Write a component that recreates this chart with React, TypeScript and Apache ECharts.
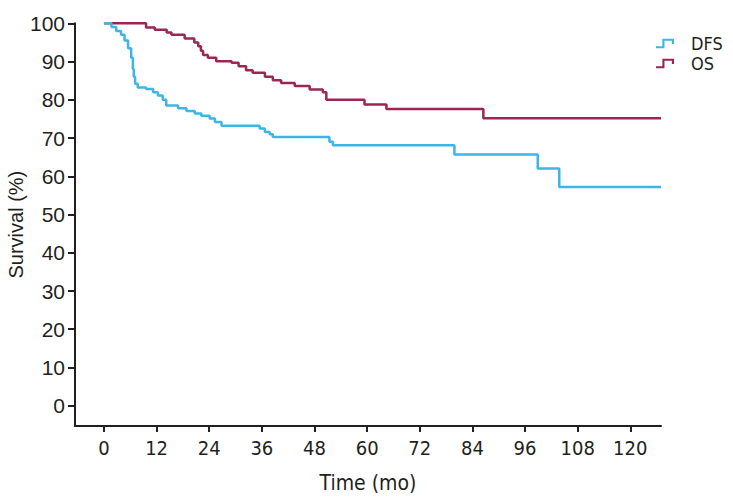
import React, { useEffect, useRef } from "react";
import * as echarts from "echarts";

const xTicks = [0, 12, 24, 36, 48, 60, 72, 84, 96, 108, 120];
const yTicks = [0, 10, 20, 30, 40, 50, 60, 70, 80, 90, 100];

const dfsTime = [0, 1.7, 2.8, 3.9, 4.7, 5.5, 6.2, 6.6, 6.8, 7.1, 7.7, 9.6, 11.2, 12.3, 13.4, 14.2, 16.9, 18.8, 20.7, 22.2, 24.1, 25.3, 26.8, 35.5, 36.7, 37.8, 38.5, 51.4, 52.2, 79.9, 98.9, 103.8, 127];
const dfsSurv = [100, 99, 98, 97, 95.5, 93.5, 91, 88, 86, 84.2, 83.2, 82.8, 82, 81.1, 80, 78.5, 77.8, 77.1, 76.4, 75.8, 75.1, 74.2, 73.2, 72.5, 71.6, 71, 70.3, 69, 68.1, 65.7, 62, 57.2, 57.2];

const osTime = [0, 9.6, 11.6, 14.3, 15.4, 18.4, 20.6, 21.5, 22.1, 22.6, 23.7, 25.6, 29.1, 30.7, 32.4, 33.9, 36.7, 38.5, 40.4, 43.5, 46.9, 49.9, 50.7, 59.4, 64.4, 86.5, 127];
const osSurv = [100, 98.9, 98.3, 97.6, 97, 96, 95, 94, 92.8, 91.7, 91, 90.1, 89.7, 88.8, 87.7, 87.1, 86, 85.1, 84.4, 83.6, 82.7, 82, 80, 78.8, 77.6, 75.2, 75.2];

const seriesNames = ["DFS", "OS"];
const colors = ["#3db5e6", "#9c2555"];

const TEXT = "#231f20";
const NARROW = "'DejaVu Sans Condensed', 'Liberation Sans', sans-serif";
const SANS = "'Liberation Sans', Arial, sans-serif";

const stepIcon = "path://M0,7 L6,7 L6,0 L17,0 L17,5 L15,5 L15,2 L8,2 L8,9 L0,9 Z";

export default function App() {
  const ref = useRef<HTMLDivElement>(null);
  useEffect(() => {
    document.body.style.margin = "0";
    const chart = echarts.init(ref.current!, null, { renderer: "svg" });
    const pairs = (t: number[], v: number[]) => t.map((x, i) => [x, v[i]]);
    chart.setOption({
      animation: false,
      backgroundColor: "#ffffff",
      grid: { left: 75, right: 72, top: 23.3, bottom: 74, containLabel: false, outerBoundsMode: "none" },
      legend: {
        data: seriesNames,
        orient: "vertical",
        left: 651,
        top: 29.5,
        icon: stepIcon,
        itemWidth: 18,
        itemHeight: 10,
        itemGap: 2,
        itemStyle: { borderWidth: 0 },
        textStyle: {
          fontFamily: NARROW,
          fontSize: 18,
          color: TEXT,
          lineHeight: 17,
          padding: [0, 0, 0, 12],
        },
      },
      xAxis: {
        type: "value",
        min: -6.6,
        max: 127,
        name: "Time (mo)",
        nameLocation: "middle",
        nameGap: 46,
        nameMoveOverlap: false,
        nameTextStyle: { fontFamily: NARROW, fontSize: 21, color: TEXT },
        axisLine: { onZero: false, lineStyle: { color: TEXT, width: 2 } },
        axisTick: { show: true, length: 6, lineStyle: { color: TEXT, width: 2 }, customValues: xTicks },
        axisLabel: { customValues: xTicks, fontFamily: NARROW, fontSize: 20, color: TEXT, margin: 12 },
        splitLine: { show: false },
      },
      yAxis: {
        type: "value",
        min: -5.3,
        max: 100,
        name: "Survival (%)",
        nameLocation: "middle",
        nameGap: 49,
        nameMoveOverlap: false,
        nameTextStyle: { fontFamily: SANS, fontSize: 20, color: TEXT },
        axisLine: { onZero: false, lineStyle: { color: TEXT, width: 2 } },
        axisTick: { show: true, length: 7, lineStyle: { color: TEXT, width: 2 }, customValues: yTicks },
        axisLabel: { customValues: yTicks, fontFamily: SANS, fontSize: 21, color: TEXT, margin: 10 },
        splitLine: { show: false },
      },
      series: [
        {
          name: seriesNames[0],
          type: "line",
          step: "end",
          showSymbol: false,
          color: colors[0],
          lineStyle: { color: colors[0], width: 2.5 },
          data: pairs(dfsTime, dfsSurv),
          z: 3,
        },
        {
          name: seriesNames[1],
          type: "line",
          step: "end",
          showSymbol: false,
          color: colors[1],
          lineStyle: { color: colors[1], width: 2.5 },
          data: pairs(osTime, osSurv),
          z: 2,
        },
      ],
    });
    return () => chart.dispose();
  }, []);
  return <div ref={ref} style={{ position: "absolute", left: 0, top: 0, width: 733, height: 500 }} />;
}
